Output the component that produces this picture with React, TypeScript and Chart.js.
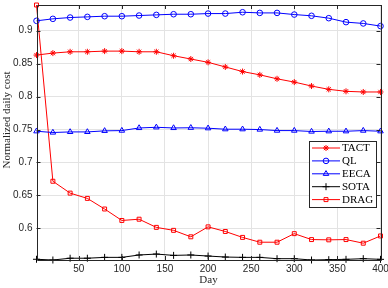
import React, { useEffect, useRef } from "react";
import { Chart, registerables } from "chart.js";
import { drawPoint } from "chart.js/helpers";

Chart.register(...registerables);

const days = [1, 20, 40, 60, 80, 100, 120, 140, 160, 180, 200, 220, 240, 260, 280, 300, 320, 340, 360, 380, 400];
const tact = [0.863, 0.866, 0.868, 0.868, 0.869, 0.869, 0.868, 0.868, 0.862, 0.857, 0.852, 0.845, 0.838, 0.833, 0.827, 0.822, 0.816, 0.811, 0.808, 0.807, 0.807];
const ql = [0.915, 0.918, 0.92, 0.921, 0.922, 0.922, 0.923, 0.924, 0.925, 0.925, 0.926, 0.926, 0.928, 0.927, 0.927, 0.9245, 0.9226, 0.919, 0.913, 0.911, 0.907];
const eeca = [0.7474, 0.7455, 0.7464, 0.7464, 0.748, 0.7484, 0.7524, 0.7534, 0.7524, 0.7527, 0.752, 0.7505, 0.7505, 0.75, 0.7484, 0.7484, 0.747, 0.7474, 0.7474, 0.7484, 0.7474];
const sota = [0.5531, 0.552, 0.5547, 0.5547, 0.556, 0.556, 0.5596, 0.561, 0.559, 0.5596, 0.558, 0.5565, 0.556, 0.556, 0.554, 0.554, 0.552, 0.5525, 0.553, 0.554, 0.553];
const drag = [0.939, 0.6715, 0.6535, 0.6455, 0.6294, 0.612, 0.6139, 0.6015, 0.597, 0.5872, 0.6023, 0.5953, 0.5863, 0.579, 0.579, 0.592, 0.583, 0.5826, 0.583, 0.5775, 0.5885];

const seriesNames = ["TACT", "QL", "EECA", "SOTA", "DRAG"];
const xTicks = [50, 100, 150, 200, 250, 300, 350, 400];
const yTicks = [0.6, 0.65, 0.7, 0.75, 0.8, 0.85, 0.9];
const xMin = 1;
const xMax = 400;
const yMin = 0.552;
const yMax = 0.939;
const xTitle = "Day";
const yTitle = "Normalized daily cost";

const AXIS_COLOR = "#262626";
const SERIF = "'Liberation Serif', 'DejaVu Serif', serif";
const SANS = "'Liberation Sans', Arial, sans-serif";

const boxPlugin = {
  id: "boxTicks",
  afterDatasetsDraw(chart: any) {
    const { ctx, chartArea, scales } = chart;
    const { left, right, top, bottom } = chartArea;
    ctx.save();
    ctx.strokeStyle = AXIS_COLOR;
    ctx.lineWidth = 1;
    ctx.beginPath();
    ctx.rect(Math.round(left) + 0.5, Math.round(top) + 0.5, Math.round(right - left), Math.round(bottom - top));
    ctx.stroke();
    const tl = 4;
    ctx.beginPath();
    for (const v of xTicks) {
      const x = Math.round(scales.x.getPixelForValue(v)) + 0.5;
      ctx.moveTo(x, bottom);
      ctx.lineTo(x, bottom - tl);
      ctx.moveTo(x, top);
      ctx.lineTo(x, top + tl);
    }
    for (const v of yTicks) {
      const y = Math.round(scales.y.getPixelForValue(v)) + 0.5;
      ctx.moveTo(left, y);
      ctx.lineTo(left + tl, y);
      ctx.moveTo(right, y);
      ctx.lineTo(right - tl, y);
    }
    ctx.stroke();
    ctx.restore();
  },
  afterDraw(chart: any) {
    const { ctx } = chart;
    ctx.save();
    // y axis title
    ctx.translate(7.5, 120);
    ctx.rotate(-Math.PI / 2);
    ctx.fillStyle = AXIS_COLOR;
    ctx.font = "11px " + SERIF;
    ctx.textAlign = "center";
    ctx.textBaseline = "middle";
    ctx.fillText(yTitle, 0, 0);
    ctx.restore();

    ctx.save();
    const bx = 309.5, by = 141.5, bw = 67, bh = 66;
    ctx.fillStyle = "#ffffff";
    ctx.fillRect(bx, by, bw, bh);
    ctx.strokeStyle = AXIS_COLOR;
    ctx.lineWidth = 1;
    ctx.strokeRect(bx, by, bw, bh);
    const rowH = 12.9;
    chart.data.datasets.forEach((ds: any, i: number) => {
      const y = 148 + i * rowH;
      ctx.strokeStyle = ds.borderColor;
      ctx.lineWidth = 1;
      ctx.beginPath();
      ctx.moveTo(312, y);
      ctx.lineTo(340, y);
      ctx.stroke();
      ctx.strokeStyle = ds.pointBorderColor;
      ctx.fillStyle = ds.pointBackgroundColor;
      drawPoint(ctx, { pointStyle: ds.pointStyle, radius: ds.pointRadius, rotation: 0, borderWidth: 1 }, 326, y);
      ctx.fillStyle = "#000000";
      ctx.font = "11px " + SERIF;
      ctx.textBaseline = "middle";
      ctx.textAlign = "left";
      ctx.fillText(ds.label, 342, y + 0.5);
    });
    ctx.restore();
  },
};

function mk(label: string, data: number[], color: string, style: string, radius: number) {
  return {
    label,
    data: days.map((d, i) => ({ x: d, y: data[i] })),
    borderColor: color,
    backgroundColor: color,
    pointBorderColor: color,
    pointBackgroundColor: "rgba(0,0,0,0)",
    pointStyle: style,
    pointRadius: radius,
    pointBorderWidth: 1,
    borderWidth: 1,
    clip: false,
  };
}

export default function App() {
  const ref = useRef<HTMLCanvasElement>(null);
  useEffect(() => {
    const canvas = ref.current;
    if (!canvas) return;
    const chart = new Chart(canvas, {
      type: "line",
      data: {
        datasets: [
          mk(seriesNames[0], tact, "#ff0000", "star", 3),
          mk(seriesNames[1], ql, "#0000ff", "circle", 2.8),
          mk(seriesNames[2], eeca, "#0000ff", "triangle", 3.2),
          mk(seriesNames[3], sota, "#000000", "cross", 3.5),
          mk(seriesNames[4], drag, "#ff0000", "rect", 2.8),
        ],
      },
      options: {
        responsive: false,
        animation: false,
        layout: { padding: { top: 2, right: 7.5, left: 0, bottom: 0 } },
        plugins: { legend: { display: false }, tooltip: { enabled: false } },
        scales: {
          x: {
            type: "linear",
            min: xMin,
            max: xMax,
            afterBuildTicks: (s: any) => {
              s.ticks = xTicks.map((v) => ({ value: v }));
            },
            afterFit: (s: any) => {
              s.height = 28;
              s.paddingLeft = 0;
              s.paddingRight = 0;
            },
            grid: { color: "#e3e3e3", drawTicks: false, lineWidth: 1 },
            border: { display: false },
            ticks: {
              color: AXIS_COLOR,
              font: { family: SANS, size: 10 },
              padding: 3,
              maxRotation: 0,
              autoSkip: false,
            },
            title: {
              display: true,
              text: xTitle,
              color: AXIS_COLOR,
              font: { family: SERIF, size: 11 },
              padding: { top: 0, bottom: 1 },
            },
          },
          y: {
            type: "linear",
            min: yMin,
            max: yMax,
            afterBuildTicks: (s: any) => {
              s.ticks = yTicks.map((v) => ({ value: v }));
            },
            afterFit: (s: any) => {
              s.width = 36.5;
              s.paddingTop = 0;
              s.paddingBottom = 0;
            },
            grid: { color: "#e3e3e3", drawTicks: false, lineWidth: 1 },
            border: { display: false },
            ticks: {
              color: AXIS_COLOR,
              font: { family: SANS, size: 10 },
              padding: 4,
              autoSkip: false,
              callback: (v: any) => String(Number(Number(v).toFixed(2))),
            },
            title: { display: false },
          },
        },
      },
      plugins: [boxPlugin],
    } as any);
    return () => chart.destroy();
  }, []);
  return (
    <div style={{ position: "fixed", left: 0, top: 0, width: 388, height: 288, background: "#fff" }}>
      <canvas ref={ref} width={388} height={288} />
    </div>
  );
}
